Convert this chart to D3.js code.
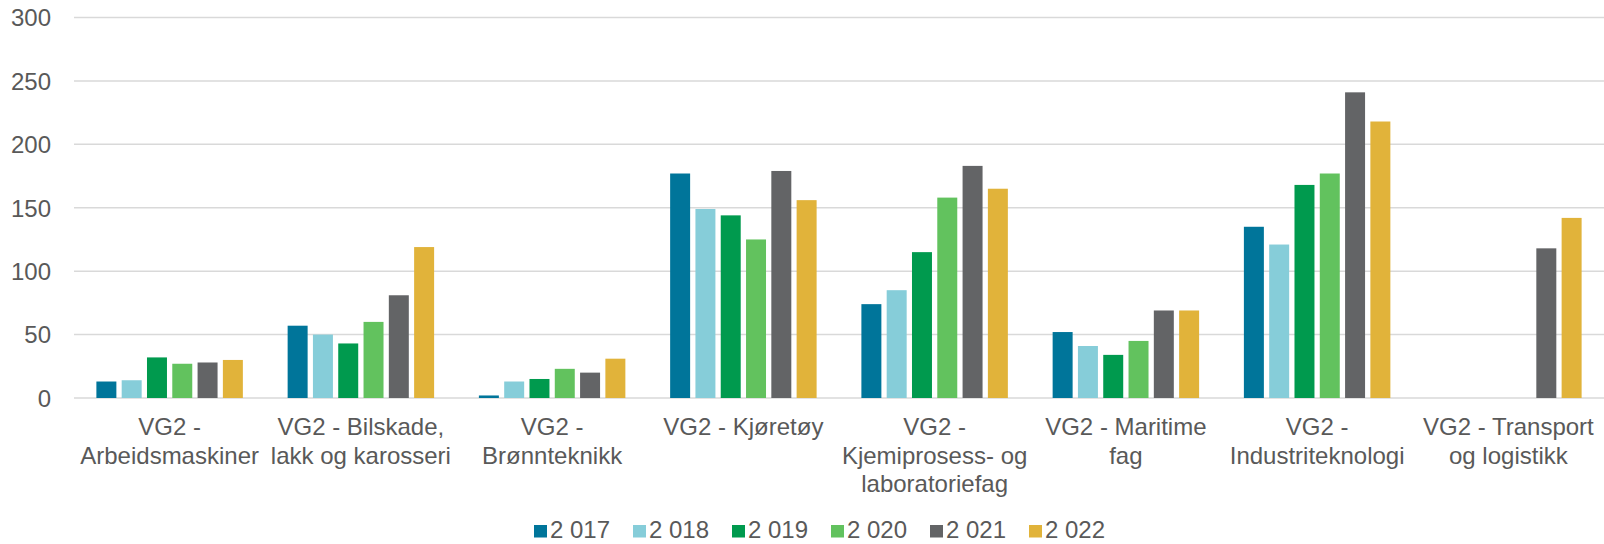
<!DOCTYPE html>
<html>
<head>
<meta charset="utf-8">
<script src="https://cdn.jsdelivr.net/npm/d3@7"></script>
<style>
  body { margin: 0; background: #fff; }
  svg text { font-family: "Liberation Sans", Arial, sans-serif; fill: #595959; }
</style>
</head>
<body>
<div id="chart"></div>
<script>
var width = 1604;
var height = 544;

// kategorier (linjeskift som i originalen)
var categories = [
  ['VG2 -', 'Arbeidsmaskiner'],
  ['VG2 - Bilskade,', 'lakk og karosseri'],
  ['VG2 -', 'Brønnteknikk'],
  ['VG2 - Kjøretøy'],
  ['VG2 -', 'Kjemiprosess- og', 'laboratoriefag'],
  ['VG2 - Maritime', 'fag'],
  ['VG2 -', 'Industriteknologi'],
  ['VG2 - Transport', 'og logistikk']
];

var years = ['2 017', '2 018', '2 019', '2 020', '2 021', '2 022'];

var s2017 = [13, 57, 2, 177, 74, 52, 135, null];
var s2018 = [14, 50, 13, 149, 85, 41, 121, null];
var s2019 = [32, 43, 15, 144, 115, 34, 168, null];
var s2020 = [27, 60, 23, 125, 158, 45, 177, null];
var s2021 = [28, 81, 20, 179, 183, 69, 241, 118];
var s2022 = [30, 119, 31, 156, 165, 69, 218, 142];

var yTicks = [0, 50, 100, 150, 200, 250, 300];

var colors = ['#00759a', '#86cdd9', '#009a4e', '#62c25e', '#636466', '#e1b33a'];

var series = [s2017, s2018, s2019, s2020, s2021, s2022];

var svg = d3.select('#chart')
  .append('svg')
  .attr('width', width)
  .attr('height', height);

var margin = { left: 74, right: 0, top: 17.5, bottom: 146 };

var x0 = d3.scaleBand()
  .domain(d3.range(categories.length))
  .range([margin.left, width - margin.right])
  .paddingInner(0)
  .paddingOuter(0);

var x1 = d3.scaleBand()
  .domain(d3.range(years.length))
  .range([0, x0.bandwidth()])
  .paddingInner(0.21)
  .paddingOuter(0.885);

var y = d3.scaleLinear()
  .domain([0, 300])
  .range([398, margin.top]);

// rutenett
svg.append('g')
  .selectAll('line')
  .data(yTicks)
  .enter()
  .append('line')
  .attr('x1', margin.left)
  .attr('x2', width)
  .attr('y1', d => y(d))
  .attr('y2', d => y(d))
  .style('stroke', '#d9d9d9')
  .style('stroke-width', 1.5);

// y-akse tekster
var yAxis = d3.axisLeft(y)
  .tickValues(yTicks)
  .tickSize(0)
  .tickPadding(0);

var yG = svg.append('g')
  .attr('transform', 'translate(51,0)')
  .call(yAxis);
yG.select('.domain').remove();
yG.selectAll('text')
  .style('font-size', '24px')
  .style('fill', '#595959')
  .attr('dy', '0.35em');

// søyler
var rows = categories.map((c, i) => ({
  index: i,
  data: series.map((s, j) => ({ year: j, value: s[i] }))
}));

var groups = svg.append('g')
  .selectAll('g')
  .data(rows)
  .enter()
  .append('g')
  .attr('transform', d => 'translate(' + x0(d.index) + ',0)');

groups.selectAll('rect')
  .data(d => d.data.filter(item => item.value != null))
  .enter()
  .append('rect')
  .attr('x', d => x1(d.year))
  .attr('width', x1.bandwidth())
  .attr('y', d => y(d.value))
  .attr('height', d => y(0) - y(d.value))
  .style('fill', d => colors[d.year]);

// x-akse tekster
var labels = svg.append('g')
  .selectAll('text')
  .data(categories)
  .enter()
  .append('text')
  .attr('x', (d, i) => x0(i) + x0.bandwidth() / 2)
  .attr('y', 435)
  .attr('text-anchor', 'middle')
  .style('font-size', '24px');

labels.selectAll('tspan')
  .data(d => d)
  .enter()
  .append('tspan')
  .attr('x', function () { return d3.select(this.parentNode).attr('x'); })
  .attr('dy', (d, i) => i === 0 ? 0 : 28.6)
  .text(d => d);

// tegnforklaring
var legend = svg.append('g')
  .selectAll('g')
  .data(years)
  .enter()
  .append('g')
  .attr('transform', (d, i) => 'translate(' + (534 + i * 99) + ',525)');

legend.append('rect')
  .attr('width', 13)
  .attr('height', 12.5)
  .style('fill', (d, i) => colors[i]);

legend.append('text')
  .attr('x', 16)
  .attr('y', 13)
  .style('font-size', '24px')
  .text(d => d);
</script>
</body>
</html>
